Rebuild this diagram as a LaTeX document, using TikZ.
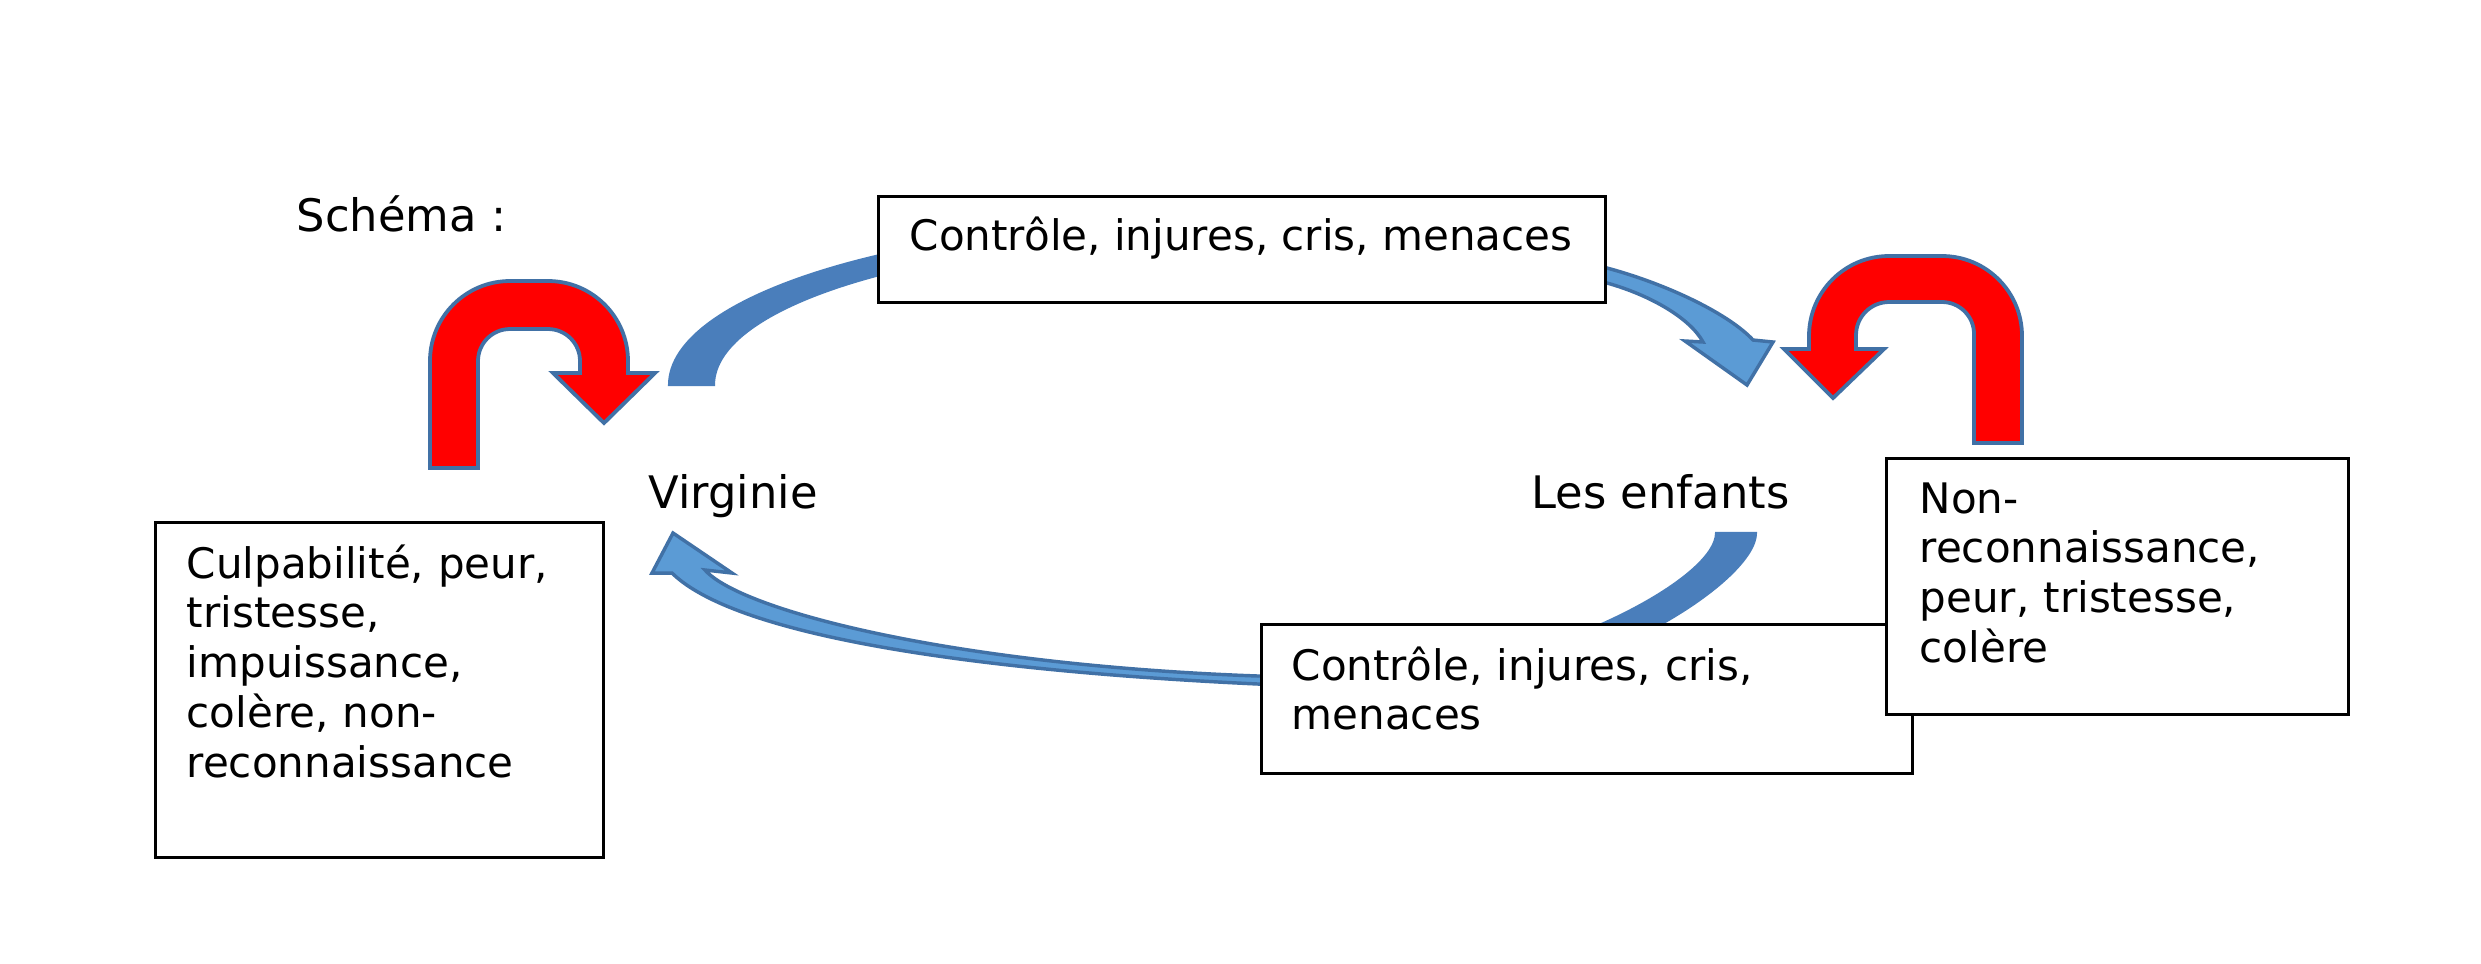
\documentclass[tikz,border=0pt]{standalone}
\usepackage{fontspec}
\setmainfont{DejaVu Sans}
\definecolor{ribbon}{RGB}{74,126,187}
\definecolor{ribbonlight}{RGB}{91,155,213}
\definecolor{edgeblue}{RGB}{65,113,166}
\begin{document}
\begin{tikzpicture}[x=0.2902pt,y=-0.2902pt,
  txt/.style={font=\fontsize{12.2pt}{14.5pt}\selectfont, inner sep=0pt, anchor=base west, align=left},
  bigtxt/.style={txt, font=\fontsize{13pt}{15pt}\selectfont},
  box/.style={draw=black, line width=0.9pt, fill=white, anchor=north west, inner sep=0pt},
  uturn/.style={fill=red, draw=edgeblue, line width=1.1pt, line join=miter},
  darkband/.style={fill=ribbon, draw=ribbon, line width=0.6pt},
  lightband/.style={fill=ribbonlight, draw=edgeblue, line width=1pt, line join=miter}]
\useasboundingbox (0,0) rectangle (2481,963);
\fill[white] (0,0) rectangle (2481,963);
% top curved arrow (Virginie -> Les enfants)
\path[darkband] (669,385) .. controls (669,295) and (907,222) .. (1200,222) -- (1200,239) .. controls (931,239) and (714,304) .. (714,385) -- cycle;
\path[lightband] (1200,222) .. controls (1350,220) and (1500,240) .. (1607,268) .. controls (1670,285) and (1730,315) .. (1753,340) -- (1773,342) -- (1747,385) -- (1685,341) -- (1703,342) .. controls (1690,318) and (1650,295) .. (1607,283) .. controls (1500,255) and (1350,239) .. (1200,239) -- cycle;
% bottom curved arrow (Les enfants -> Virginie)
\path[darkband] (1716,533) -- (1756,533) .. controls (1756,580) and (1600,680) .. (1450,690) -- (1440,672) .. controls (1580,650) and (1716,575) .. (1716,533) -- cycle;
\path[lightband] (1470,690) -- (1258,684) .. controls (1000,672) and (740,640) .. (672,573) -- (652,573) -- (673,533) -- (732,573) -- (705,570) .. controls (740,610) and (950,665) .. (1258,676) -- (1470,672) -- cycle;
% left red U-turn
\path[uturn] (430,468) -- (430,361) .. controls (430,316.8) and (465.8,281) .. (510,281) -- (548,281) .. controls (592.2,281) and (628,316.8) .. (628,361) -- (628,373) -- (655,373) -- (604,423) -- (553,373) -- (580,373) -- (580,361) .. controls (580,343.3) and (565.7,329) .. (548,329) -- (510,329) .. controls (492.3,329) and (478,343.3) .. (478,361) -- (478,468) -- cycle;
% right red U-turn
\path[uturn] (2022,443) -- (2022,336) .. controls (2022,291.8) and (1986.2,256) .. (1942,256) -- (1889,256) .. controls (1844.8,256) and (1809,291.8) .. (1809,336) -- (1809,349) -- (1784,349) -- (1833,398) -- (1884,349) -- (1856,349) -- (1856,335) .. controls (1856,316.8) and (1870.8,302) .. (1889,302) -- (1942,302) .. controls (1959.7,302) and (1974,316.3) .. (1974,334) -- (1974,443) -- cycle;
% boxes
\node[box, minimum width=727*0.2902pt, minimum height=106*0.2902pt] (topbox) at (876.5,194.5) {};
\node[box, minimum width=448*0.2902pt, minimum height=335*0.2902pt] (leftbox) at (153.5,520.5) {};
\node[box, minimum width=651*0.2902pt, minimum height=149*0.2902pt] (bottombox) at (1259.5,622.5) {};
\node[box, minimum width=462*0.2902pt, minimum height=256*0.2902pt] (rightbox) at (1884.5,456.5) {};
% texts
\node[bigtxt] (schema) at (296,231) {Schéma~:};
\node[txt] (toptext) at (909,250) {Contrôle, injures, cris, menaces};
\node[bigtxt] (virginie) at (648,508) {Virginie};
\node[bigtxt] (enfants) at (1531,508) {Les enfants};
\node[txt, text width=400*0.2902pt] (lefttext) at (186,578) {Culpabilité, peur,\\tristesse,\\impuissance,\\colère, non-\\reconnaissance};
\node[txt, text width=600*0.2902pt] (bottomtext) at (1291,680) {Contrôle, injures, cris,\\menaces};
\node[txt, text width=420*0.2902pt] (righttext) at (1919,513) {Non-\\reconnaissance,\\peur, tristesse,\\colère};
\end{tikzpicture}
\end{document}
